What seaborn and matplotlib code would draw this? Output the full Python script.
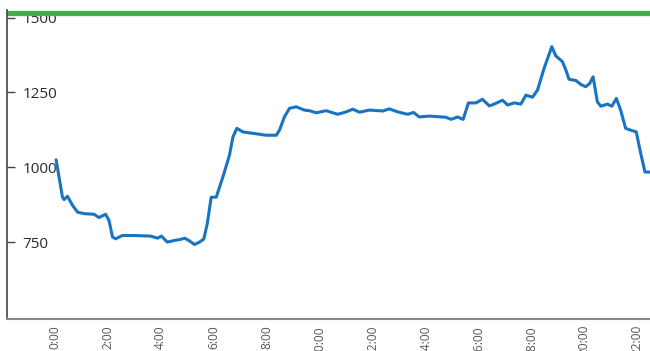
import matplotlib
matplotlib.use("Agg")
import matplotlib.pyplot as plt
import seaborn as sns
import pandas as pd

hours = [0.05, 0.29, 0.35, 0.48, 0.67, 0.86, 1.11, 1.48, 1.67, 1.92, 2.05, 2.18, 2.30, 2.55,
         2.99, 3.62, 3.88, 4.03, 4.25, 4.50, 4.75, 4.91, 5.07, 5.28, 5.45, 5.63, 5.76, 5.91,
         6.10, 6.35, 6.60, 6.73, 6.88, 7.11, 7.36, 7.99, 8.37, 8.49, 8.68, 8.87, 9.12, 9.43,
         9.62, 9.88, 10.25, 10.69, 11.01, 11.26, 11.51, 11.89, 12.39, 12.64, 12.96, 13.33,
         13.56, 13.77, 14.15, 14.78, 14.97, 15.22, 15.43, 15.63, 15.91, 16.16, 16.42, 16.60,
         16.92, 17.11, 17.36, 17.61, 17.80, 18.05, 18.24, 18.49, 18.78, 18.93, 19.18, 19.31,
         19.43, 19.69, 19.87, 20.06, 20.21, 20.34, 20.50, 20.63, 20.88, 21.05, 21.22, 21.38,
         21.57, 21.76, 21.97, 22.14, 22.30, 22.50]
values = [1025, 900, 892, 903, 873, 850, 845, 843, 832, 843, 822, 767, 761, 772,
          772, 770, 763, 770, 750, 755, 759, 763, 755, 742, 749, 760, 811, 900,
          900, 967, 1040, 1101, 1130, 1118, 1115, 1107, 1107, 1124, 1169, 1197, 1202, 1191,
          1189, 1182, 1189, 1177, 1185, 1194, 1184, 1191, 1188, 1195, 1185, 1177,
          1183, 1168, 1171, 1167, 1160, 1168, 1160, 1215, 1215, 1227, 1205, 1211,
          1224, 1208, 1215, 1211, 1241, 1234, 1258, 1331, 1403, 1372, 1353, 1325,
          1294, 1290, 1277, 1269, 1280, 1302, 1219, 1204, 1211, 1204, 1230, 1191,
          1130, 1124, 1118, 1046, 984, 984]
threshold = 1514
x_ticks = [0, 2, 4, 6, 8, 10, 12, 14, 16, 18, 20, 22]
x_labels = ["0:00", "2:00", "4:00", "6:00", "8:00", "10:00", "12:00", "14:00",
            "16:00", "18:00", "20:00", "22:00"]
y_ticks = [750, 1000, 1250, 1500]

sns.set_theme(style="white")
plt.rcParams["font.family"] = ["Open Sans", "DejaVu Sans"]

fig = plt.figure(figsize=(6.5, 3.51), dpi=100)
ax = fig.add_axes([0.011, 0.092, 0.989, 0.880])

df = pd.DataFrame({"hour": hours, "value": values})
ax.axhline(threshold, color="#43ad47", lw=3.8, zorder=1)
sns.lineplot(data=df, x="hour", y="value", ax=ax, color="#1874c0", lw=2.2, zorder=3)

ax.set_xlim(-1.80, 22.49)
ax.set_ylim(494, 1526)
ax.set_xlabel("")
ax.set_ylabel("")

ax.set_xticks(x_ticks)
ax.set_xticklabels(x_labels, rotation=90, fontsize=8.6, color="#555555")
ax.tick_params(axis="x", length=0, pad=4.5)
ax.set_yticks(y_ticks)
ax.set_yticklabels([str(v) for v in y_ticks], fontsize=11, color="#2a2a2a")
ax.tick_params(axis="y", direction="in", length=6, width=1, color="#444444", pad=-11, left=True)
for lbl in ax.get_yticklabels():
    lbl.set_horizontalalignment("left")

for s in ["top", "right"]:
    ax.spines[s].set_visible(False)
ax.spines["left"].set_color("#444444")
ax.spines["left"].set_linewidth(1.2)
ax.spines["bottom"].set_color("#888888")
ax.spines["bottom"].set_linewidth(1.5)

fig.savefig("out.png", dpi=100)
